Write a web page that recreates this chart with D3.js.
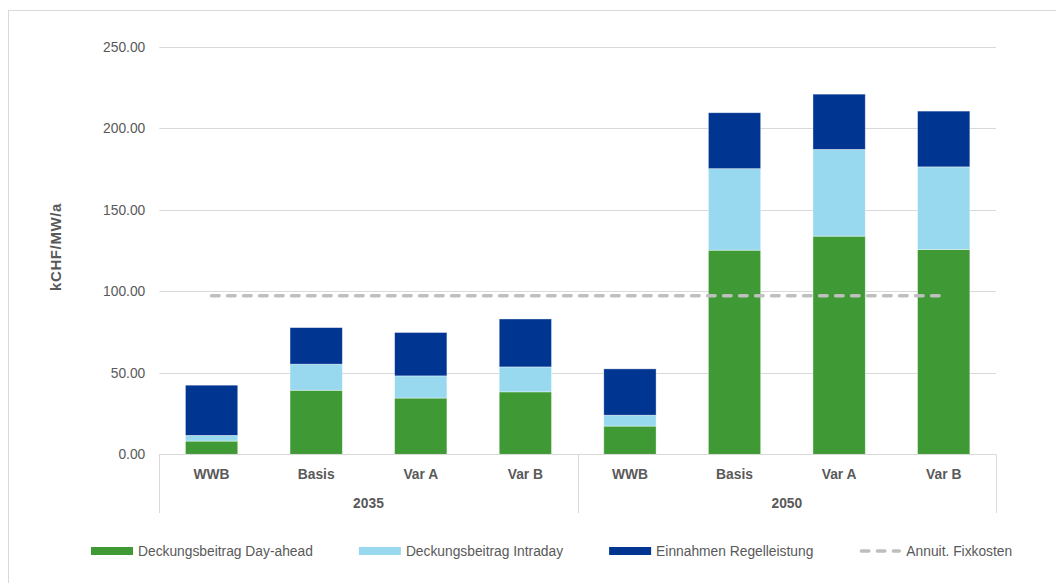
<!DOCTYPE html>
<html>
<head>
<meta charset="utf-8">
<script src="https://cdn.jsdelivr.net/npm/d3@7"></script>
<style>
  html, body { margin: 0; padding: 0; background: #fff; }
  svg { display: block; }
  text { font-family: "Liberation Sans", Arial, sans-serif; fill: #595959; }
</style>
</head>
<body>
<svg id="chart" width="1056" height="583"></svg>
<script>
// ---- Data ----
const groups = ["2035", "2050"];
const categories = ["WWB", "Basis", "Var A", "Var B"];
const dayAhead   = [8.1, 39.3, 34.5, 38.3, 17.3, 125.2, 133.8, 125.6];
const intraday   = [3.5, 16.0, 13.6, 15.3, 6.7, 50.0, 53.2, 50.7];
const regel      = [30.8, 22.4, 26.6, 29.4, 28.4, 34.3, 33.9, 34.2];
const fixkosten  = [97.3, 97.3, 97.3, 97.3, 97.3, 97.3, 97.3, 97.3];
const yTicks = [0, 50, 100, 150, 200, 250];
const seriesNames = ["Deckungsbeitrag Day-ahead", "Deckungsbeitrag Intraday", "Einnahmen Regelleistung", "Annuit. Fixkosten"];
const colors = ["#3F9A35", "#99D9F0", "#003591", "#BFBFBF"];
const yTitle = "kCHF/MW/a";

(function () {
// ---- Build table ----
const rows = [];
groups.forEach((g, gi) => categories.forEach((c, ci) => {
  const i = gi * categories.length + ci;
  rows.push({ key: g + "|" + c, group: g, cat: c, da: dayAhead[i], id: intraday[i], rg: regel[i], fk: fixkosten[i] });
}));

const svg = d3.select("#chart");
const pLeft = 159.3, pRight = 996, pTop = 46.7, pBottom = 454.3;

// outer border
svg.append("rect").attr("x", 8.5).attr("y", 10.5).attr("width", 1100).attr("height", 620)
  .attr("fill", "none").attr("stroke", "#D9D9D9").attr("stroke-width", 1);

const x = d3.scaleBand().domain(rows.map(d => d.key)).range([pLeft, pRight]).paddingInner(0.5).paddingOuter(0.25);
const y = d3.scaleLinear().domain([0, 250]).range([pBottom, pTop]);

// gridlines
svg.append("g").selectAll("line").data(yTicks.filter(t => t > 0)).join("line")
  .attr("x1", pLeft).attr("x2", pRight)
  .attr("y1", d => Math.round(y(d)) + 0.5).attr("y2", d => Math.round(y(d)) + 0.5)
  .attr("stroke", "#D9D9D9").attr("stroke-width", 1);

// y axis
const yAxis = svg.append("g").attr("transform", `translate(${pLeft - 14},0)`)
  .call(d3.axisLeft(y).tickValues(yTicks).tickFormat(d3.format(".2f")).tickSize(0).tickPadding(0));
yAxis.select(".domain").remove();
yAxis.selectAll("text").attr("fill", "#595959").style("font-size", "13.8px")
  .style("font-family", '"Liberation Sans", Arial, sans-serif');

// y title
svg.append("text").attr("transform", `translate(61,247) rotate(-90)`)
  .attr("text-anchor", "middle").style("font-size", "15px").style("font-weight", "bold")
  .style("letter-spacing", "0.6px").text(yTitle);

// stacked bars
const stack = d3.stack().keys(["da", "id", "rg"]);
const stacked = stack(rows);
svg.append("g").selectAll("g").data(stacked).join("g")
  .attr("fill", (d, i) => colors[i])
  .selectAll("rect").data(d => d).join("rect")
  .attr("x", d => x(d.data.key))
  .attr("width", x.bandwidth())
  .attr("y", d => y(d[1]))
  .attr("height", d => y(d[0]) - y(d[1]))
  .attr("stroke", "#ffffff").attr("stroke-opacity", 0.5).attr("stroke-width", 0.75);

// fixkosten dashed line
const line = d3.line().x(d => x(d.key) + x.bandwidth() / 2).y(d => y(d.fk));
svg.append("path").datum(rows).attr("d", line)
  .attr("fill", "none").attr("stroke", colors[3]).attr("stroke-width", 3.5)
  .attr("stroke-linecap", "round").attr("stroke-dasharray", "7.5 8.5");

// x axis line
svg.append("line").attr("x1", pLeft).attr("x2", pRight).attr("y1", Math.round(pBottom) + 0.5).attr("y2", Math.round(pBottom) + 0.5)
  .attr("stroke", "#D9D9D9").attr("stroke-width", 1);

// group separators
const step = x.step();
const boundaries = [pLeft];
groups.forEach((g, gi) => boundaries.push(pLeft + step * categories.length * (gi + 1)));
svg.append("g").selectAll("line").data(boundaries).join("line")
  .attr("x1", d => Math.round(d) + 0.5).attr("x2", d => Math.round(d) + 0.5)
  .attr("y1", pBottom).attr("y2", 513)
  .attr("stroke", "#D9D9D9").attr("stroke-width", 1);

// category labels
svg.append("g").selectAll("text").data(rows).join("text")
  .attr("x", d => x(d.key) + x.bandwidth() / 2).attr("y", 479)
  .attr("text-anchor", "middle").style("font-size", "13.8px").style("font-weight", "bold")
  .text(d => d.cat);

// group labels
svg.append("g").selectAll("text").data(groups).join("text")
  .attr("x", (d, i) => (boundaries[i] + boundaries[i + 1]) / 2).attr("y", 508)
  .attr("text-anchor", "middle").style("font-size", "13.8px").style("font-weight", "bold")
  .text(d => d);

// legend
const legend = svg.append("g");
let lx = 91;
const ly = 551;
seriesNames.forEach((name, i) => {
  const g = legend.append("g");
  if (i < 3) {
    g.append("rect").attr("x", lx).attr("y", ly - 4).attr("width", 42).attr("height", 8).attr("fill", colors[i]);
  } else {
    g.append("line").attr("x1", lx + 2).attr("x2", lx + 40).attr("y1", ly).attr("y2", ly)
      .attr("stroke", colors[i]).attr("stroke-width", 3.5).attr("stroke-linecap", "round")
      .attr("stroke-dasharray", "7.5 8.5");
  }
  const t = g.append("text").attr("x", lx + 47).attr("y", ly + 5).style("font-size", "13.8px").text(name);
  lx += 47 + t.node().getComputedTextLength() + 46;
});
})();
</script>
</body>
</html>
